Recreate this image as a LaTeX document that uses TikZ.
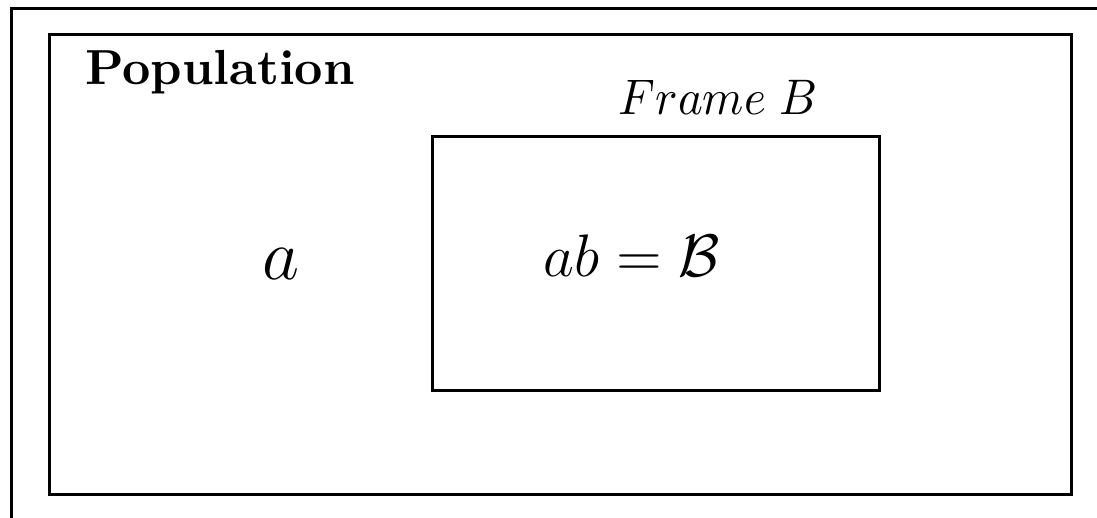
\documentclass[tikz,border=0pt]{standalone}
\usepackage{amsmath}
\usepackage{graphicx}
\begin{document}
\begin{tikzpicture}[x=0.2pt,y=-0.2pt,
  frameline/.style={draw=black,line width=0.6pt},
  boxline/.style={draw=black,line width=0.6pt},
  lbl/.style={inner sep=0pt,anchor=base}]
\useasboundingbox (0,0) rectangle (1097,518);
\clip (0,0) rectangle (1097,518);
\draw[frameline] (11.5,9) rectangle (1120,540);
\draw[frameline] (49.5,34.5) rectangle (1071.5,495);
\draw[boxline] (433,137) rectangle (880,391);
\node[lbl] (pop) at (220,85) {\fontsize{9.85}{11}\selectfont\bfseries Population};
\node[lbl] (fb) at (718,115) {\scalebox{0.94}[1]{\fontsize{9.9}{11}\selectfont $Frame\;B$}};
\node[lbl] (a) at (281,280) {\fontsize{13.5}{15}\selectfont $a$};
\node[lbl] (ab) at (632,277) {\fontsize{13}{15}\selectfont $ab=\mathcal{B}$};
\end{tikzpicture}
\end{document}
